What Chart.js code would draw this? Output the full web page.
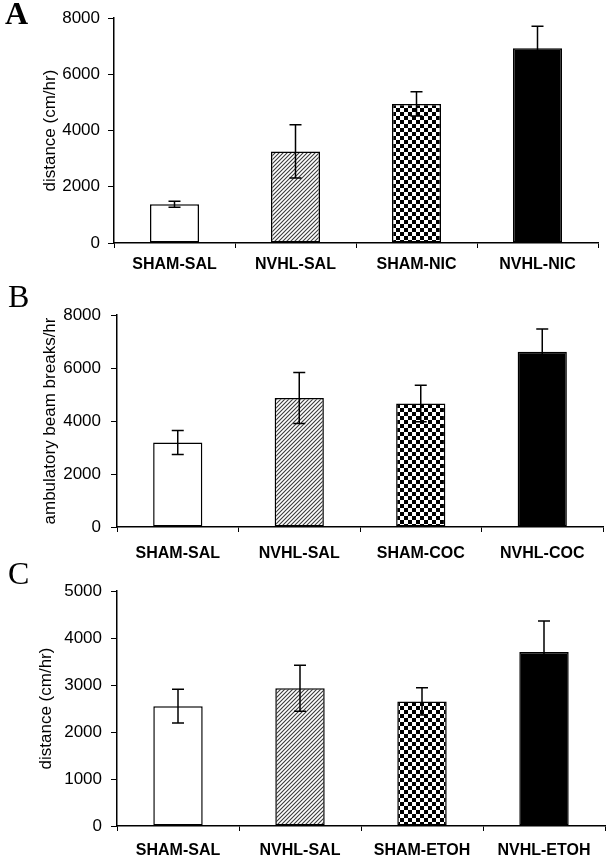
<!DOCTYPE html>
<html>
<head>
<meta charset="utf-8">
<script src="https://cdn.jsdelivr.net/npm/chart.js@4/dist/chart.umd.min.js"></script>
<style>
body{margin:0;background:#fff;}
#wrap{position:relative;width:609px;height:862px;overflow:hidden;}
canvas{position:absolute;left:0;}
.letter{position:absolute;font-family:"Liberation Serif","Times New Roman",serif;font-size:32px;line-height:32px;color:#000;}
</style>
</head>
<body>
<div id="wrap">
  <canvas id="chartA" width="609" height="280" style="top:0px"></canvas>
  <canvas id="chartB" width="609" height="290" style="top:280px"></canvas>
  <canvas id="chartC" width="609" height="292" style="top:570px"></canvas>
  <div class="letter" style="left:5px;top:-3px;font-weight:bold">A</div>
  <div class="letter" style="left:8px;top:280px">B</div>
  <div class="letter" style="left:8px;top:557px">C</div>
</div>
<script>
// panel A - nicotine
const labelsA = ["SHAM-SAL","NVHL-SAL","SHAM-NIC","NVHL-NIC"];
const meanA = [1380, 3260, 4950, 6930];
const errA = [110, 950, 430, 780];

// panel B - cocaine
const labelsB = ["SHAM-SAL","NVHL-SAL","SHAM-COC","NVHL-COC"];
const meanB = [3190, 4870, 4660, 6610];
const errB = [450, 960, 690, 860];

// panel C - ethanol
const labelsC = ["SHAM-SAL","NVHL-SAL","SHAM-ETOH","NVHL-ETOH"];
const meanC = [2550, 2930, 2650, 3700];
const errC = [360, 490, 290, 660];

function hatchPattern(){
    const c = document.createElement("canvas");
    c.width = 4; c.height = 4;
    const g = c.getContext("2d");
    g.fillStyle = "#fff";
    g.fillRect(0,0,4,4);
    g.strokeStyle = "#3a3a3a";
    g.lineWidth = 1.1;
    g.beginPath();
    g.moveTo(-1,5); g.lineTo(5,-1);
    g.moveTo(-1,1); g.lineTo(1,-1);
    g.moveTo(3,5); g.lineTo(5,3);
    g.stroke();
    return g.createPattern(c,"repeat");
}

function checkerPattern(){
    const c = document.createElement("canvas");
    c.width = 8; c.height = 8;
    const g = c.getContext("2d");
    g.fillStyle = "#fff";
    g.fillRect(0,0,8,8);
    g.fillStyle = "#000";
    g.fillRect(0,0,4,4);
    g.fillRect(4,4,4,4);
    return g.createPattern(c,"repeat");
}

const fills = ["#ffffff", hatchPattern(), checkerPattern(), "#000000"];

const errorBars = {
    id:"errorBars",
    afterDatasetsDraw(chart){
        const ctx = chart.ctx;
        const y = chart.scales.y;
        const ds = chart.data.datasets[0];
        const meta = chart.getDatasetMeta(0);
        ctx.save();
        ctx.strokeStyle = "#000";
        ctx.lineWidth = 1.5;
        meta.data.forEach((bar,i)=>{
            const top = y.getPixelForValue(ds.data[i] + ds.err[i]);
            const bot = y.getPixelForValue(ds.data[i] - ds.err[i]);
            ctx.beginPath();
            ctx.moveTo(bar.x, top); ctx.lineTo(bar.x, bot);
            ctx.moveTo(bar.x-6, top); ctx.lineTo(bar.x+6, top);
            ctx.moveTo(bar.x-6, bot); ctx.lineTo(bar.x+6, bot);
            ctx.stroke();
        });
        ctx.restore();
    }
};

function makePanel(id, labels, values, errs, cfg){
    const canvas = document.getElementById(id);
    const H = canvas.height;
    return new Chart(canvas,{
        type:"bar",
        data:{
            labels:labels,
            datasets:[{
                data:values,
                err:errs,
                backgroundColor:fills,
                borderColor:"#000",
                borderWidth:1.5,
                borderSkipped:false,
                barPercentage:0.405,
                categoryPercentage:1
            }]
        },
        options:{
            responsive:false,
            animation:false,
            devicePixelRatio:1,
            layout:{padding:{left:0, top:cfg.top, right:609-cfg.right, bottom:0}},
            plugins:{legend:{display:false}, tooltip:{enabled:false}},
            scales:{
                x:{
                    offset:true,
                    grid:{offset:true, drawOnChartArea:false, drawTicks:true, tickLength:5, color:"#000", lineWidth:1},
                    border:{display:true, color:"#000", width:1.5},
                    ticks:{color:"#000", padding:cfg.xpad, maxRotation:0, autoSkip:false,
                           font:{family:"'Liberation Sans', Arial, sans-serif", size:16, weight:"bold"}},
                    afterFit(s){ s.height = H - cfg.bottom; }
                },
                y:{
                    min:0, max:cfg.max,
                    ticks:{stepSize:cfg.step, color:"#000", padding:cfg.ypad,
                           callback:v=>String(v),
                           font:{family:"'Liberation Sans', Arial, sans-serif", size:17}},
                    grid:{drawOnChartArea:false, drawTicks:true, tickLength:6, color:"#000", lineWidth:1},
                    border:{display:true, color:"#000", width:1.5},
                    title:{display:true, text:cfg.title, color:"#000", padding:{top:cfg.tpad, bottom:0},
                           font:{family:"'Liberation Sans', Arial, sans-serif", size:17}},
                    afterFit(s){ s.width = cfg.left; }
                }
            }
        },
        plugins:[errorBars]
    });
}

makePanel("chartA", labelsA, meanA, errA,
    {left:114, right:598, top:17, bottom:243, max:8000, step:2000, xpad:7, ypad:8, tpad:40, title:"distance (cm/hr)"});
makePanel("chartB", labelsB, meanB, errB,
    {left:117, right:603, top:35, bottom:247, max:8000, step:2000, xpad:12, ypad:10, tpad:40, title:"ambulatory beam breaks/hr"});
makePanel("chartC", labelsC, meanC, errC,
    {left:117, right:605, top:21, bottom:256, max:5000, step:1000, xpad:10, ypad:9, tpad:36, title:"distance (cm/hr)"});
</script>
</body>
</html>
